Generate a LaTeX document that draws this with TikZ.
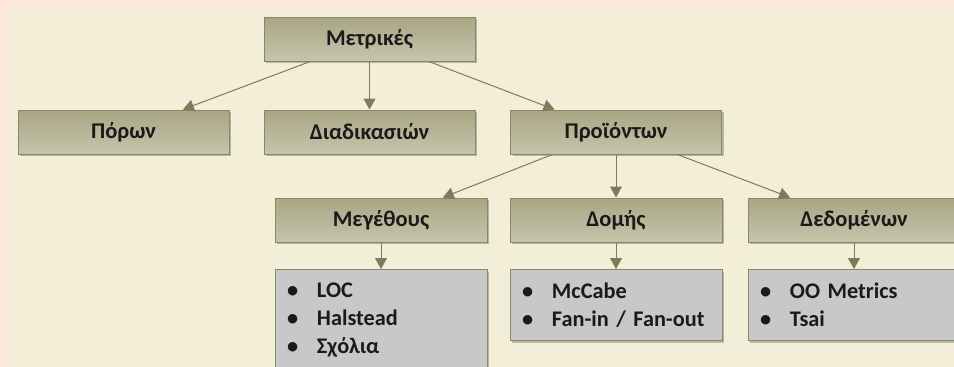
\documentclass[tikz,border=0pt]{standalone}
\usepackage{fontspec}
\setmainfont{Carlito}
\usetikzlibrary{calc,arrows.meta,shadows}

\definecolor{pageedge}{HTML}{FDE9DB}
\definecolor{pagebg}{HTML}{F3EED8}
\definecolor{boxtop}{HTML}{A9A684}
\definecolor{boxbot}{HTML}{C6C4AC}
\definecolor{boxline}{HTML}{8A8767}
\definecolor{listfill}{HTML}{C8C8C8}
\definecolor{linkcol}{HTML}{7E7B5C}
\definecolor{labeltext}{HTML}{1A1A1A}

\newcommand\bulletline[1]{\makebox[30pt][l]{\textbullet}#1}

\tikzset{
  boxshadow/.style={drop shadow={shadow xshift=2pt, shadow yshift=-2pt, opacity=0.35, fill=black!70}},
  catbox/.style={draw=boxline, line width=1pt, top color=boxtop, bottom color=boxbot,
    minimum width=211pt, minimum height=44pt, inner sep=0pt,
    font=\fontsize{22.5}{27}\selectfont\bfseries, text=labeltext, boxshadow},
  listbox/.style={draw=boxline, line width=1pt, fill=listfill, anchor=north,
    minimum width=212pt, inner xsep=12pt, inner ysep=0pt, text width=188pt, align=left,
    font=\fontsize{22.3}{28}\selectfont\bfseries, text=labeltext, boxshadow},
  link/.style={draw=linkcol, line width=1pt, -{Triangle[width=12pt,length=11pt]}}
}

\begin{document}
\begin{tikzpicture}[x=1pt, y=-1pt]
  \useasboundingbox (0,0) rectangle (954,367);
  \clip (0,0) rectangle (954,367);
  % page background with its tinted margin
  \fill[pageedge] (0,0) rectangle (954,367);
  \fill[pagebg] (8,9) rectangle (954,367);

  % top level
  \node[catbox] (metr) at (369.5,39) {Μετρικές};

  % second level
  \node[catbox] (poron) at (123.5,132) {Πόρων};
  \node[catbox] (diad)  at (369.5,132) {Διαδικασιών};
  \node[catbox] (proi)  at (616,132) {Προϊόντων};

  % third level
  \node[catbox, minimum width=212pt] (meg)  at (381,220) {Μεγέθους};
  \node[catbox, minimum width=212pt] (dom)  at (616,220) {Δομής};
  \node[catbox, minimum width=212pt] (ded)  at (854,220) {Δεδομένων};

  % metric lists
  \node[listbox, minimum height=102pt] (megl) at (381,269)
    {\bulletline{LOC}\\\bulletline{Halstead}\\\bulletline{Σχόλια}};
  \node[listbox, minimum height=71pt] (doml) at (616,269)
    {\bulletline{McCabe}\\\bulletline{Fan-in / Fan-out}};
  \node[listbox, minimum height=71pt] (dedl) at (854,269)
    {\bulletline{OO Metrics}\\\bulletline{Tsai}};

  % connectors
  \draw[link] ($(metr.south west)!0.22!(metr.south east)$) -- ($(poron.north west)!0.78!(poron.north east)$);
  \draw[link] (metr.south) -- (diad.north);
  \draw[link] ($(metr.south west)!0.78!(metr.south east)$) -- ($(proi.north west)!0.21!(proi.north east)$);

  \draw[link] ($(proi.south west)!0.2!(proi.south east)$) -- ($(meg.north west)!0.79!(meg.north east)$);
  \draw[link] (proi.south) -- (dom.north);
  \draw[link] ($(proi.south west)!0.79!(proi.south east)$) -- ($(ded.north west)!0.2!(ded.north east)$);

  \draw[link] (meg.south) -- (megl.north);
  \draw[link] (dom.south) -- (doml.north);
  \draw[link] (ded.south) -- (dedl.north);
\end{tikzpicture}
\end{document}
